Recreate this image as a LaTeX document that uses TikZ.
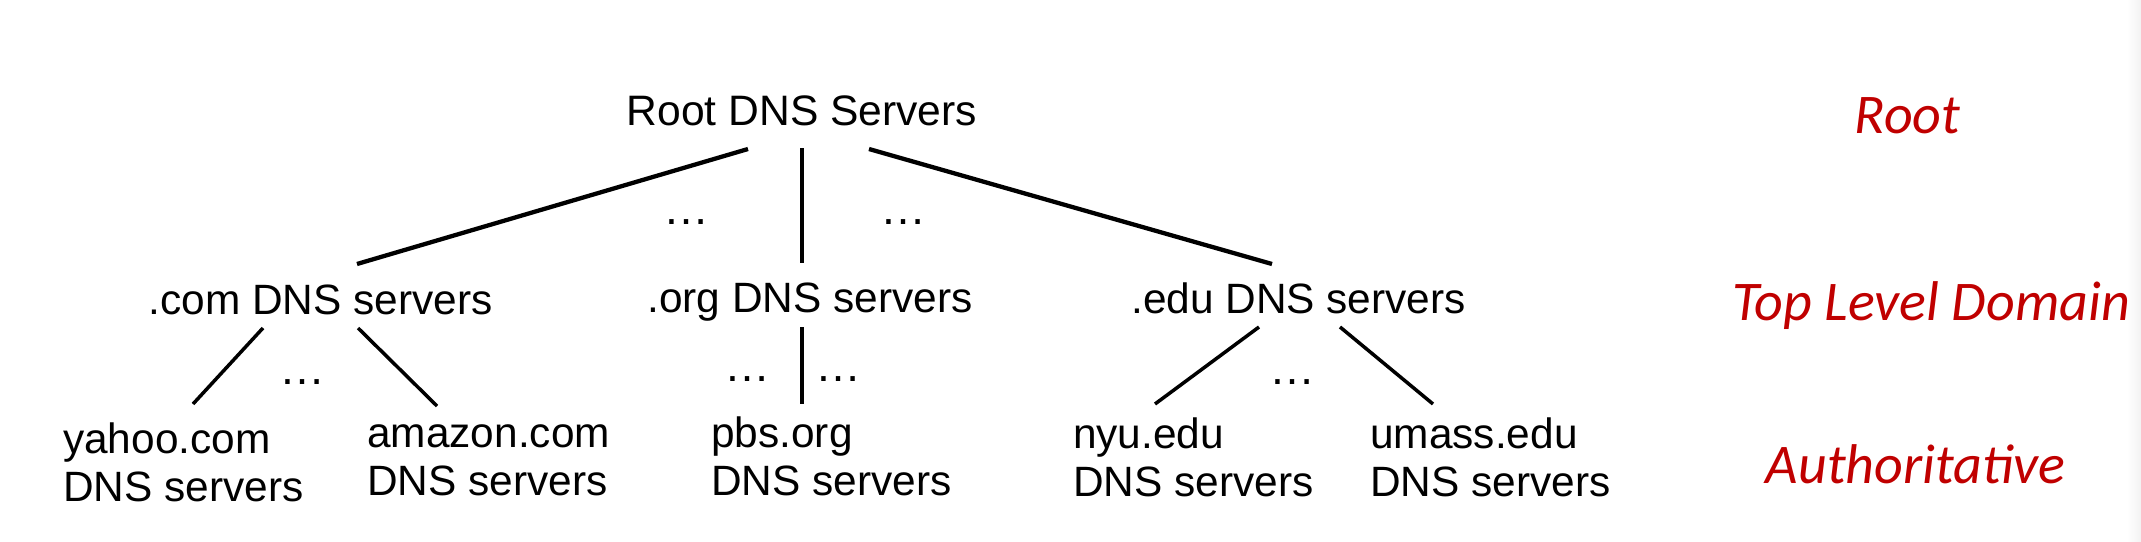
\documentclass[tikz,border=0pt]{standalone}
\usepackage{fontspec}
\setmainfont{Liberation Sans}
\newfontfamily\labfont{Carlito}
\definecolor{tierred}{HTML}{C00000}
\newcommand{\twoline}[2]{\vtop{\hbox{#1}\hbox{#2}}}
\tikzset{
  rootlbl/.style={inner sep=0pt, anchor=base, font=\fontsize{42.6}{48}\selectfont},
  tldlbl/.style={inner sep=0pt, anchor=base, font=\fontsize{42.4}{48}\selectfont},
  leaflbl/.style={inner sep=0pt, anchor=base west, font=\fontsize{42.4}{48}\selectfont},
  ellip/.style={inner sep=0pt, anchor=base, font=\fontsize{46}{48}\selectfont},
  tierlbl/.style={inner sep=0pt, anchor=base, text=tierred, font=\labfont\itshape\fontsize{56}{64}\selectfont},
  toplink/.style={line width=4.3pt},
  sublink/.style={line width=3.5pt}
}
\begin{document}
\begin{tikzpicture}[x=1pt,y=-1pt]
\useasboundingbox (0,0) rectangle (2141,541);
\fill[left color=white,right color=black!5] (2127,0) rectangle (2141,541);

% tree nodes
\node[rootlbl] (root) at (802,125) {Root DNS Servers};
\node[tldlbl] (com) at (320.5,314) {.com DNS servers};
\node[tldlbl] (org) at (810,312) {.org DNS servers};
\node[tldlbl] (edu) at (1298.5,313) {.edu DNS servers};
\node[leaflbl] (yahoo) at (63,453) {\twoline{yahoo.com}{DNS servers}};
\node[leaflbl] (amazon) at (367,447) {\twoline{amazon.com}{DNS servers}};
\node[leaflbl] (pbs) at (711,447) {\twoline{pbs.org}{DNS servers}};
\node[leaflbl] (nyu) at (1073,448) {\twoline{nyu.edu}{DNS servers}};
\node[leaflbl] (umass) at (1370,448) {\twoline{umass.edu}{DNS servers}};

% ellipses
\node[ellip] (e1) at (686,224) {…};
\node[ellip] (e2) at (903,224) {…};
\node[ellip] (e3) at (302,384) {…};
\node[ellip] (e4) at (747,381) {…};
\node[ellip] (e5) at (838,381) {…};
\node[ellip] (e6) at (1292,384) {…};

% tier labels
\node[tierlbl] (troot) at (1907.5,133) {Root};
\node[tierlbl] (ttld) at (1931,320) {Top Level Domain};
\node[tierlbl] (tauth) at (1915.5,483) {Authoritative};

% connectors
\draw[toplink] ([shift={(-54,24)}]root.base) -- ([shift={(36.5,-50)}]com.base);
\draw[toplink] ([shift={(0,23)}]root.base) -- ([shift={(-8,-49)}]org.base);
\draw[toplink] ([shift={(67,24)}]root.base) -- ([shift={(-26.5,-49)}]edu.base);

\draw[sublink] ([shift={(-57.5,14)}]com.base) -- ([shift={(130,-49)}]yahoo.base west);
\draw[sublink] ([shift={(37.5,14)}]com.base) -- ([shift={(70,-41)}]amazon.base west);
\draw[sublink] ([shift={(-8,15)}]org.base) -- ([shift={(91,-43)}]pbs.base west);
\draw[sublink] ([shift={(-39.5,14)}]edu.base) -- ([shift={(82,-44)}]nyu.base west);
\draw[sublink] ([shift={(41.5,14)}]edu.base) -- ([shift={(63,-44)}]umass.base west);
\end{tikzpicture}
\end{document}
